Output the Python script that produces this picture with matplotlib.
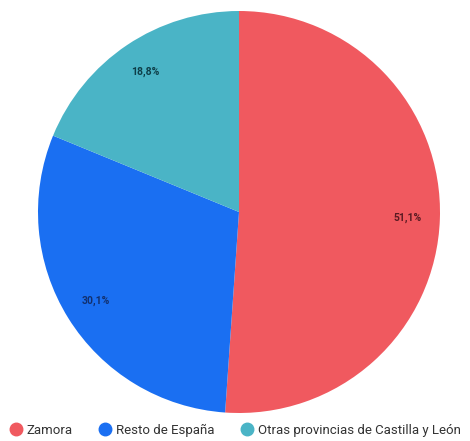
import numpy as np
import matplotlib.pyplot as plt
from matplotlib.lines import Line2D

# Datos del gráfico
categorias = ["Zamora", "Resto de España", "Otras provincias de Castilla y León"]
porcentajes = [51.1, 30.1, 18.8]
etiquetas = ["51,1%", "30,1%", "18,8%"]

colores = ["#F0595F", "#1A6FF2", "#4AB4C6"]
colores_texto = ["#5A1A22", "#12306E", "#0E3E48"]

plt.rcParams["font.family"] = ["Roboto", "DejaVu Sans"]

fig = plt.figure(figsize=(4.7, 4.41), dpi=100)
ax = fig.add_axes([38 / 470, 1 - 413 / 441, 402 / 470, 402 / 441])

wedges, _ = ax.pie(porcentajes, colors=colores, startangle=90, counterclock=False,
                   wedgeprops={"linewidth": 0})
ax.set_xlim(-1, 1)
ax.set_ylim(-1, 1)
ax.set_aspect("equal")

# Etiquetas de porcentaje dentro de cada sector
for w, txt, col in zip(wedges, etiquetas, colores_texto):
    mid = np.deg2rad((w.theta1 + w.theta2) / 2)
    ax.text(0.84 * np.cos(mid), 0.84 * np.sin(mid), txt, ha="center", va="center",
            fontsize=7.5, fontweight="bold", color=col)

# Leyenda abajo
handles = [Line2D([0], [0], marker="o", linestyle="", markersize=9,
                  markerfacecolor=c, markeredgecolor=c) for c in colores]
fig.legend(handles, categorias, loc="lower center", bbox_to_anchor=(0.5, -0.018),
           ncol=3, frameon=False, fontsize=9.5, handletextpad=0.3, columnspacing=2.0,
           handlelength=1.0, labelcolor="#333333")

fig.savefig("out.png", dpi=100)
